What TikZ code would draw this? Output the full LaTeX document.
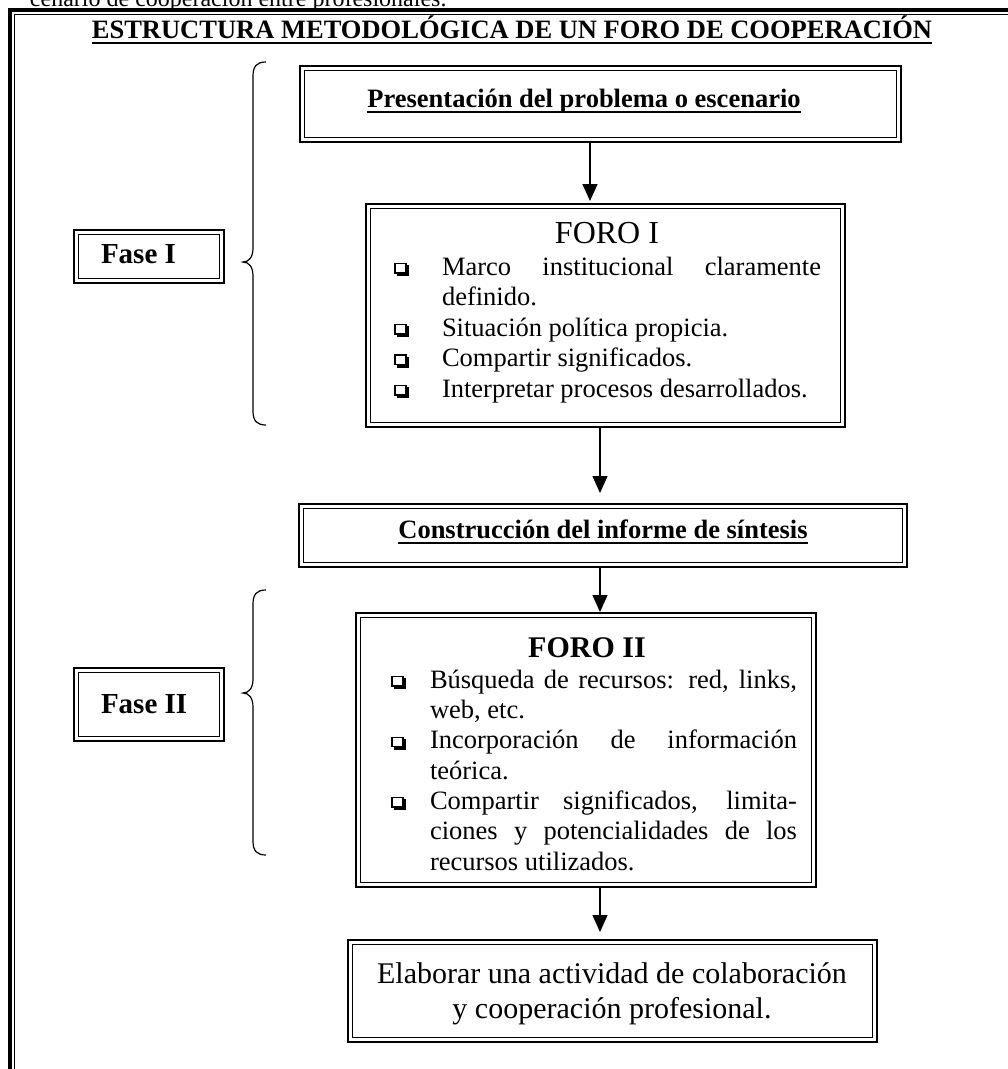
\documentclass[tikz,border=0pt]{standalone}
\usepackage{fontspec}
\setmainfont{Liberation Serif}
\usetikzlibrary{arrows.meta}
\newcommand{\fbase}{\fontsize{26.5}{30}\selectfont}
\newcommand{\fbig}{\fontsize{30}{35}\selectfont}
\tikzset{
  obox/.style={draw, line width=2.8, inner sep=0, outer sep=0},
  ibox/.style={draw, line width=1.2},
  txt/.style={inner sep=0, outer sep=0, anchor=base, font=\fbase},
  txtl/.style={inner sep=0, outer sep=0, anchor=base west, font=\fbase},
  uline/.style={line width=2.2},
  arr/.style={line width=1.3, -{Triangle[width=15pt,length=17pt]}},
  brace/.style={line width=1.2},
  bullet/.pic={
    \draw[line width=1.1] (0,-11.5) rectangle (11,-2);
    \draw[line width=2.4] (1.5,-0.2) -- (12.3,-0.2) -- (12.3,-10);
  }
}
\newcommand{\mkbox}[5]{%
  \node[obox, minimum width={#4-#2}, minimum height={#5-#3}] (#1) at ({(#2+#4)/2},{(#3+#5)/2}) {};
  \draw[ibox] ([shift={(4.8pt,-4.8pt)}]#1.north west) rectangle ([shift={(-4.8pt,4.8pt)}]#1.south east);}
\begin{document}
\begin{tikzpicture}[x=1pt,y=-1pt]
\useasboundingbox (0,0) rectangle (1008,1069);
\clip (0,0) rectangle (1008,1069);
% page frame
\draw[line width=4] (10,1100) -- (10,10) -- (1100,10);
\draw[line width=1.5] (14.5,1100) -- (14.5,14.5) -- (1100,14.5);
\node[txtl, font=\fontsize{24}{28}\selectfont] (prev) at (30,6.5) {cenario de cooperación entre profesionales.};
% title
\node[txt, font=\fbase\bfseries] (title) at (512,38) {ESTRUCTURA METODOLÓGICA DE UN FORO DE COOPERACIÓN};
\draw[uline] ([yshift=-5pt]title.base west) -- ([yshift=-5pt]title.base east);
% boxes
\mkbox{pres}{300}{66}{901}{142}
\mkbox{foro1}{366}{204}{845}{427}
\mkbox{cons}{299}{504}{907}{567}
\mkbox{foro2}{356}{613}{816}{887}
\mkbox{elab}{348}{940}{877}{1042}
\mkbox{fase1}{74}{230}{224}{283}
\mkbox{fase2}{74}{668}{224}{741}
% box texts
\node[txt, font=\fbase\bfseries] (prestxt) at (584,107) {Presentación del problema o escenario};
\draw[uline] ([yshift=-5pt]prestxt.base west) -- ([yshift=-5pt]prestxt.base east);
\node[txt, font=\fbase\bfseries] (constxt) at (603,538) {Construcción del informe de síntesis};
\draw[uline] ([yshift=-5pt]constxt.base west) -- ([yshift=-5pt]constxt.base east);
\node[txtl, font=\fontsize{29}{33}\selectfont\bfseries] (f1txt) at (101,263) {Fase I};
\node[txtl, font=\fontsize{29}{33}\selectfont\bfseries] (f2txt) at (101,713) {Fase II};
% FORO I
\node[txt, font=\fontsize{32}{36}\selectfont] (f1head) at (607,243) {FORO I};
\pic at (395,275) {bullet};
\node[txtl] (f1a) at (442,275) {\makebox[379pt][s]{Marco institucional claramente}};
\node[txtl] (f1b) at (442,305.5) {definido.};
\pic at (395,336) {bullet};
\node[txtl] (f1c) at (442,336) {Situación política propicia.};
\pic at (395,366.5) {bullet};
\node[txtl] (f1d) at (442,366.5) {Compartir significados.};
\pic at (395,397) {bullet};
\node[txtl] (f1e) at (442,397) {Interpretar procesos desarrollados.};
% FORO II
\node[txt, font=\fontsize{30}{34}\selectfont\bfseries] (f2head) at (587,657) {FORO II};
\pic at (392,688) {bullet};
\node[txtl] (f2a) at (430,688) {\makebox[367pt][s]{Búsqueda de recursos: red, links,}};
\node[txtl] (f2b) at (430,718.3) {web, etc.};
\pic at (392,748.6) {bullet};
\node[txtl] (f2c) at (430,748.6) {\makebox[367pt][s]{Incorporación de información}};
\node[txtl] (f2d) at (430,779) {teórica.};
\pic at (392,809) {bullet};
\node[txtl] (f2e) at (430,809) {\makebox[367pt][s]{Compartir significados, limita-}};
\node[txtl] (f2f) at (430,839.5) {\makebox[367pt][s]{ciones y potencialidades de los}};
\node[txtl] (f2g) at (430,870) {recursos utilizados.};
% Elaborar
\node[txt, font=\fbig] (el1) at (612,983) {Elaborar una actividad de colaboración};
\node[txt, font=\fbig] (el2) at (612,1018) {y cooperación profesional.};
% arrows
\coordinate (a1) at (590,0);
\coordinate (a2) at (600,0);
\draw[arr, shorten >=3pt] (pres.south -| a1) -- (foro1.north -| a1);
\draw[arr, shorten >=11pt] (foro1.south -| a2) -- (cons.north -| a2);
\draw[arr, shorten >=1pt] (cons.south -| a2) -- (foro2.north -| a2);
\draw[arr, shorten >=8pt] (foro2.south -| a2) -- (elab.north -| a2);
% braces
\draw[brace] (266,62) .. controls (257,62) and (253,66) .. (253,76) -- (253,248)
  .. controls (253,257) and (249,262) .. (243,262)
  .. controls (249,262) and (253,267) .. (253,276) -- (253,411)
  .. controls (253,421) and (257,425) .. (266,425);
\draw[brace] (266,590) .. controls (257,590) and (253,594) .. (253,604) -- (253,679)
  .. controls (253,688) and (249,693) .. (243,693)
  .. controls (249,693) and (253,698) .. (253,707) -- (253,841)
  .. controls (253,851) and (257,855) .. (266,855);
\end{tikzpicture}
\end{document}
